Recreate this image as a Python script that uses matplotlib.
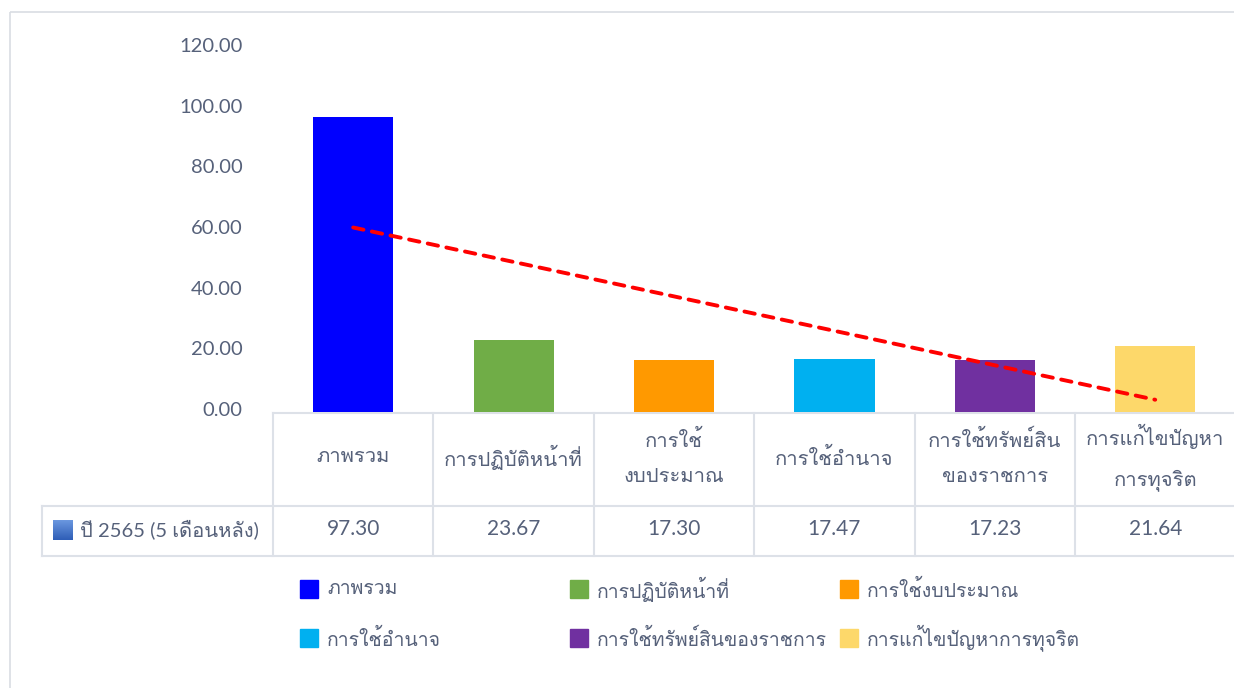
import numpy as np
import matplotlib
matplotlib.use('Agg')
import matplotlib.pyplot as plt
from matplotlib import font_manager
from matplotlib.ft2font import FT2Font
from matplotlib.patches import Rectangle
from matplotlib.colors import LinearSegmentedColormap
from matplotlib.transforms import ScaledTranslation

###------------------------- data -------------------------###
categories = ['ภาพรวม', 'การปฏิบัติหน้าที่', 'การใช้งบประมาณ',
              'การใช้อำนาจ', 'การใช้ทรัพย์สินของราชการ', 'การแก้ไขปัญหาการทุจริต']
table_labels = ['ภาพรวม', 'การปฏิบัติหน้าที่', 'การใช้\nงบประมาณ',
                'การใช้อำนาจ', 'การใช้ทรัพย์สิน\nของราชการ', 'การแก้ไขปัญหา\nการทุจริต']
values = [97.30, 23.67, 17.30, 17.47, 17.23, 21.64]
series_name = 'ปี 2565 (5 เดือนหลัง)'
colors = ['#0000FF', '#70AD47', '#FF9900', '#00B0F0', '#7030A0', '#FDD86A']
yticks = [0, 20, 40, 60, 80, 100, 120]

###------------------------- font -------------------------###
# pick any installed font that carries Thai glyphs (digits stay in Lato)
thai_font = None
for f in font_manager.fontManager.ttflist:
    try:
        if 0x0E01 in FT2Font(f.fname).get_charmap():
            thai_font = f.name
            break
    except Exception:
        pass
fams = ['Lato'] + ([thai_font] if thai_font else []) + ['DejaVu Sans']
plt.rcParams['font.family'] = fams

txt_col = '#56617A'
line_col = '#DDE1E8'
W, H = 1234, 688

fig = plt.figure(figsize=(W / 100, H / 100), dpi=100)

# overlay in pixel coordinates for frame, table and legend
bg = fig.add_axes([0, 0, 1, 1])
bg.axis('off')

# plot area: 6 columns of ~160.4 px starting at x=273, zero at y=412, 120 at y=48
col_w = 160.4
x0 = 273
ax = fig.add_axes([x0 / W, (H - 412) / H, 6 * col_w / W, (412 - 48) / H])
x = np.arange(len(values))
ax.bar(x, values, width=0.5, color=colors)

# linear trendline
k, b = np.polyfit(x, values, 1)
ax.plot(x, k * x + b, color='red', lw=2.8, ls=(0, (2.7, 2.2)),
        dash_capstyle='round')

ax.set_xlim(-0.5, len(values) - 0.5)
ax.set_ylim(0, 120)
ax.set_yticks(yticks)
ax.set_yticklabels([f'{v:.2f}' for v in yticks], fontsize=14.5, color=txt_col)
ax.set_xticks([])
ax.tick_params(axis='y', length=0, pad=22)
for lbl in ax.get_yticklabels():
    lbl.set_transform(lbl.get_transform() + ScaledTranslation(0, 0.03, fig.dpi_scale_trans))
for s in ax.spines.values():
    s.set_visible(False)
ax.patch.set_alpha(0)

# outer chart border
bg.add_patch(Rectangle((10, 12), W, H, fill=False, ec='#D9DDE3', lw=1.2))

# data table
y_top, y_mid, y_bot = 413, 506, 556
bg.plot([x0, W], [y_top, y_top], color=line_col, lw=1.5)
bg.plot([42, W], [y_mid, y_mid], color=line_col, lw=1.5)
bg.plot([42, W], [y_bot, y_bot], color=line_col, lw=1.5)
bg.plot([42, 42], [y_mid, y_bot], color=line_col, lw=1.5)
for i in range(len(values) + 1):
    xi = x0 + i * col_w
    bg.plot([xi, xi], [y_top, y_bot], color=line_col, lw=1.5)
for i, (lab, v) in enumerate(zip(table_labels, values)):
    xc = x0 + (i + 0.5) * col_w
    bg.text(xc, 457, lab, ha='center', va='center', fontsize=14.5,
            color=txt_col, linespacing=2.25)
    bg.text(xc, 529, f'{v:.2f}', ha='center', va='center', fontsize=15,
            color=txt_col)

# series marker with a light blue gradient
grad = np.linspace(0, 1, 20).reshape(-1, 1) * np.ones((1, 20))
cm = LinearSegmentedColormap.from_list('g', ['#6A96DE', '#2F5FB8'])
bg.imshow(grad, cmap=cm, extent=(53, 73, 540, 520), origin='upper', zorder=3)
bg.text(80, 529, series_name, ha='left', va='center', fontsize=14.5,
        color=txt_col)

# legend
leg_x = [300, 570, 840]
leg_y = [589, 638]
for i, (cat, c) in enumerate(zip(categories, colors)):
    lx = leg_x[i % 3]
    ly = leg_y[i // 3]
    bg.add_patch(Rectangle((lx, ly - 9), 18, 18, color=c))
    bg.text(lx + 27, ly, cat, ha='left', va='center', fontsize=14, color=txt_col)

bg.set_xlim(0, W)
bg.set_ylim(H, 0)
bg.set_aspect('auto')

fig.savefig('out.png', dpi=100)
